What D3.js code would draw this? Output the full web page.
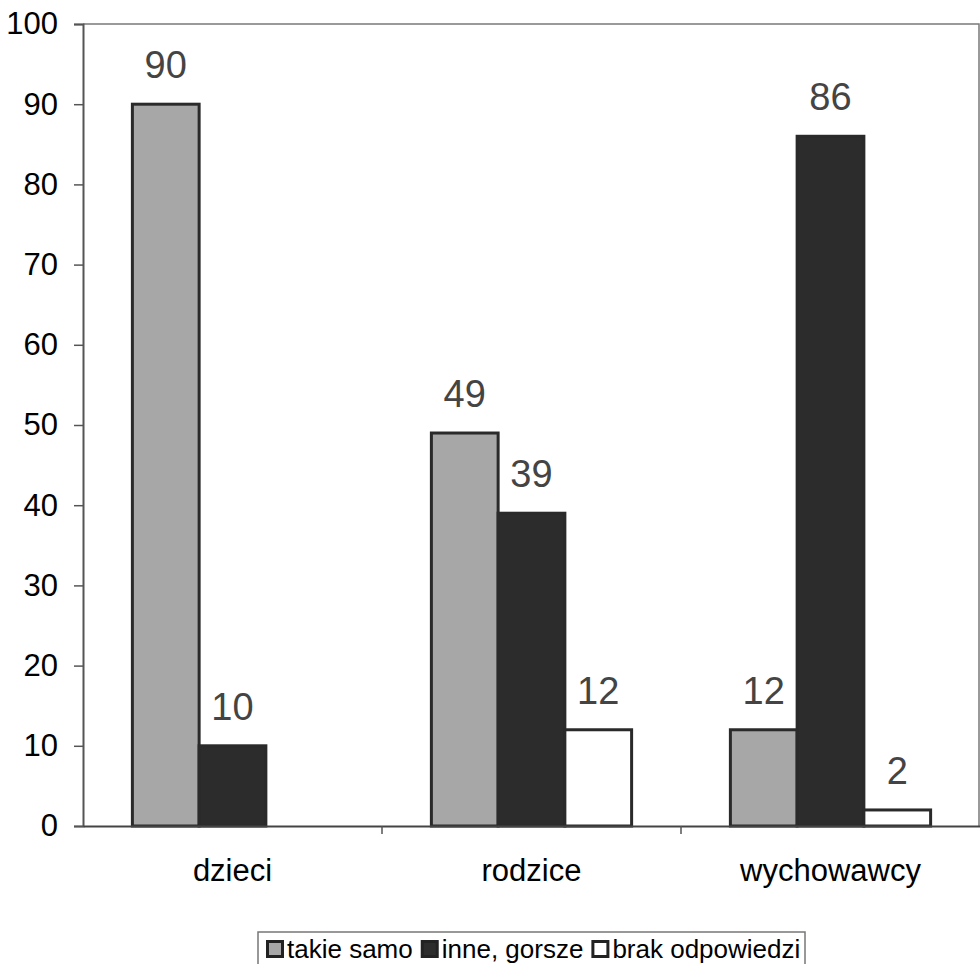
<!DOCTYPE html>
<html>
<head>
<meta charset="utf-8">
<script src="https://cdn.jsdelivr.net/npm/d3@7"></script>
<style>
  body { margin: 0; background: #fff; }
  svg { display: block; font-family: "Liberation Sans", Arial, sans-serif; }
</style>
</head>
<body>
<div id="chart"></div>
<script>
const categories = ["dzieci", "rodzice", "wychowawcy"];
const seriesNames = ["takie samo", "inne, gorsze", "brak odpowiedzi"];
const takieSamo = [90, 49, 12];
const inneGorsze = [10, 39, 86];
const brakOdpowiedzi = [0, 12, 2];
const yTicks = [0, 10, 20, 30, 40, 50, 60, 70, 80, 90, 100];

const seriesValues = [takieSamo, inneGorsze, brakOdpowiedzi];
const fills = ["#a7a7a7", "#2c2c2c", "#ffffff"];

const width = 980, height = 964;
const margin = ({top: 24, right: 0, bottom: 138, left: 83});

const svg = d3.select("#chart")
  .append("svg")
  .attr("width", width)
  .attr("height", height);

const x0 = d3.scaleBand()
  .domain(categories)
  .range([margin.left, 980]);

const x1 = d3.scaleBand()
  .domain(seriesNames)
  .range([0, x0.bandwidth()])
  .paddingOuter(0.74);

const y = d3.scaleLinear()
  .domain([0, 100])
  .range([height - margin.bottom, margin.top]);

// frame (top + right)
svg.append("path")
  .attr("d", `M${margin.left},${y(100)}H979V${y(0)}`)
  .attr("fill", "none")
  .attr("stroke", "#7a7a7a")
  .attr("stroke-width", 1.5);

// y axis
const yAxis = svg.append("g")
  .attr("transform", `translate(${margin.left},0)`)
  .call(d3.axisLeft(y).tickValues(yTicks).tickSize(9).tickPadding(16));
yAxis.attr("font-size", 31).attr("font-family", null);
yAxis.select(".domain").attr("stroke", "#555").attr("stroke-width", 2);
yAxis.selectAll(".tick line").attr("stroke", "#555").attr("stroke-width", 1.5);
yAxis.selectAll(".tick text").attr("fill", "#000");

// bars
const rows = categories.map((c, i) => ({
  category: c,
  values: seriesNames.map((s, j) => ({key: s, idx: j, value: seriesValues[j][i]}))
}));

const groups = svg.selectAll(".group")
  .data(rows)
  .join("g")
  .attr("class", "group")
  .attr("transform", d => `translate(${x0(d.category)},0)`);

groups.selectAll("rect")
  .data(d => d.values.filter(v => v.value > 0))
  .join("rect")
  .attr("x", d => x1(d.key))
  .attr("y", d => y(d.value))
  .attr("width", x1.bandwidth())
  .attr("height", d => y(0) - y(d.value))
  .attr("fill", d => fills[d.idx])
  .attr("stroke", "#2a2a2a")
  .attr("stroke-width", 3);

groups.selectAll(".label")
  .data(d => d.values.filter(v => v.value > 0))
  .join("text")
  .attr("class", "label")
  .attr("x", d => x1(d.key) + x1.bandwidth() / 2)
  .attr("y", d => y(d.value) - 26)
  .attr("text-anchor", "middle")
  .attr("font-size", 38)
  .attr("fill", "#444")
  .text(d => d.value);

// x axis
const xAxis = svg.append("g")
  .attr("transform", `translate(0,${y(0)})`)
  .call(d3.axisBottom(x0).tickSize(0).tickPadding(33));
xAxis.attr("font-size", 31).attr("font-family", null);
xAxis.select(".domain").attr("stroke", "#444").attr("stroke-width", 2);
xAxis.selectAll(".tick text").attr("fill", "#000");

// category separators
svg.append("g")
  .selectAll("line")
  .data(categories.slice(1))
  .join("line")
  .attr("x1", d => x0(d))
  .attr("x2", d => x0(d))
  .attr("y1", y(0))
  .attr("y2", y(0) + 8)
  .attr("stroke", "#555")
  .attr("stroke-width", 1.5);

// legend
const legend = svg.append("g");
legend.append("rect")
  .attr("x", 258).attr("y", 932)
  .attr("width", 547).attr("height", 50)
  .attr("fill", "#fff")
  .attr("stroke", "#777")
  .attr("stroke-width", 1.5);

let lx = 266;
seriesNames.forEach((name, i) => {
  const item = legend.append("g").attr("transform", `translate(${lx},940)`);
  item.append("rect")
    .attr("x", 1.5).attr("y", 1.5)
    .attr("width", 15).attr("height", 15)
    .attr("fill", fills[i])
    .attr("stroke", "#222")
    .attr("stroke-width", 3);
  const t = item.append("text")
    .attr("x", 21)
    .attr("y", 18)
    .attr("font-size", 26)
    .attr("fill", "#000")
    .text(name);
  lx += 21 + t.node().getComputedTextLength() + 8;
});
</script>
</body>
</html>
